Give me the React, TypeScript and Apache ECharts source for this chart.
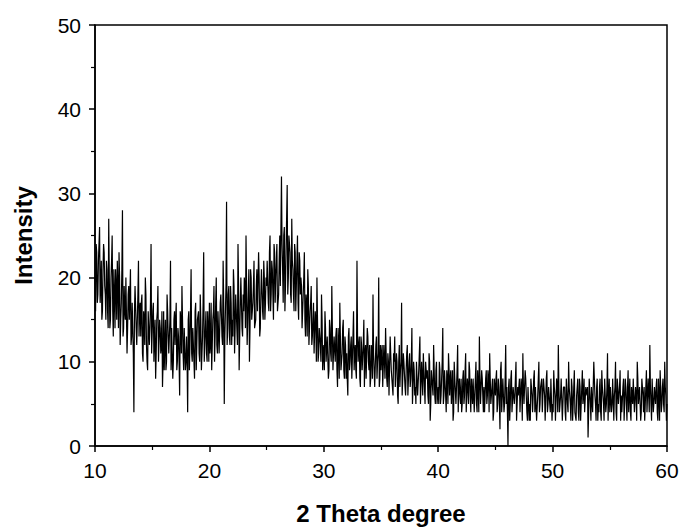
import React, { useEffect, useRef } from "react";
import * as echarts from "echarts";

// 2-theta sampling of the scan (degrees)
const THETA_START = 10;
const THETA_STEP = 0.05;

// Intensity, one row per degree (0.05° step)
const I_10_20 = [
  20, 16, 24, 23, 17, 18, 22, 24, 26, 17, 19, 22, 15, 16, 21, 24, 23, 19, 18, 15,
  22, 21, 16, 14, 27, 20, 14, 15, 20, 22, 25, 16, 13, 21, 18, 14, 21, 19, 15, 22,
  19, 14, 23, 20, 12, 15, 17, 21, 28, 13, 14, 19, 16, 15, 20, 20, 11, 14, 18, 19,
  15, 18, 21, 12, 13, 17, 17, 11, 4, 16, 19, 19, 14, 12, 12, 18, 22, 13, 16, 17,
  13, 17, 18, 11, 10, 16, 15, 12, 20, 18, 12, 10, 9, 16, 16, 12, 14, 17, 24, 11,
  11, 16, 17, 10, 13, 15, 8, 11, 15, 16, 19, 10, 10, 15, 14, 11, 12, 16, 7, 10,
  16, 9, 12, 15, 9, 10, 18, 16, 13, 11, 11, 15, 22, 9, 14, 14, 8, 10, 15, 16,
  12, 15, 17, 9, 10, 14, 13, 10, 6, 16, 15, 11, 19, 15, 11, 9, 14, 14, 9, 10,
  13, 10, 4, 15, 16, 9, 12, 16, 21, 11, 10, 14, 14, 10, 8, 16, 17, 9, 12, 15,
  15, 16, 11, 10, 18, 15, 9, 11, 13, 17, 23, 10, 12, 14, 16, 11, 10, 16, 14, 10,
];
const I_20_30 = [
  17, 11, 12, 17, 9, 12, 15, 16, 19, 10, 13, 17, 20, 12, 11, 16, 16, 11, 14, 17,
  18, 18, 13, 12, 22, 17, 5, 13, 16, 19, 29, 12, 14, 18, 19, 13, 12, 19, 17, 12,
  15, 13, 21, 19, 11, 14, 18, 18, 14, 12, 24, 19, 9, 13, 17, 20, 20, 14, 13, 18,
  16, 20, 19, 14, 25, 19, 12, 15, 18, 21, 10, 14, 21, 20, 15, 15, 17, 19, 22, 14,
  14, 15, 19, 21, 16, 16, 23, 20, 13, 14, 18, 21, 21, 16, 15, 22, 20, 15, 17, 20,
  19, 22, 22, 17, 16, 23, 25, 16, 18, 22, 21, 18, 15, 24, 23, 17, 20, 22, 24, 16,
  17, 18, 22, 25, 19, 19, 32, 24, 21, 17, 25, 26, 16, 19, 23, 23, 31, 18, 20, 25,
  24, 23, 18, 17, 27, 22, 21, 18, 16, 24, 23, 16, 19, 22, 25, 17, 15, 23, 22, 18,
  20, 19, 14, 14, 18, 20, 23, 15, 13, 18, 17, 13, 21, 19, 12, 14, 16, 17, 19, 12,
  13, 15, 17, 11, 11, 16, 15, 10, 20, 15, 10, 11, 14, 14, 12, 10, 18, 15, 9, 11,
];
const I_30_40 = [
  12, 9, 16, 14, 10, 10, 13, 13, 8, 9, 15, 14, 11, 10, 19, 14, 9, 9, 13, 13,
  10, 13, 14, 9, 7, 14, 12, 8, 17, 13, 9, 10, 11, 14, 15, 9, 8, 13, 12, 8,
  11, 8, 6, 13, 14, 9, 10, 12, 13, 8, 8, 13, 16, 9, 11, 12, 9, 8, 22, 13,
  10, 12, 13, 8, 7, 13, 12, 9, 9, 12, 15, 7, 11, 12, 8, 8, 14, 13, 10, 9,
  12, 7, 8, 12, 11, 8, 18, 11, 9, 7, 7, 12, 13, 8, 10, 11, 20, 7, 8, 12,
  9, 11, 12, 7, 7, 12, 10, 8, 14, 11, 8, 7, 11, 10, 6, 6, 13, 11, 9, 8,
  8, 6, 11, 10, 13, 7, 7, 11, 10, 6, 5, 10, 12, 7, 9, 10, 17, 6, 8, 11,
  10, 10, 7, 6, 9, 11, 12, 6, 6, 10, 11, 7, 8, 10, 14, 5, 7, 10, 9, 6,
  7, 5, 10, 10, 6, 6, 9, 9, 13, 5, 5, 10, 8, 6, 11, 9, 7, 5, 10, 9,
  8, 9, 6, 5, 11, 10, 3, 5, 9, 9, 7, 6, 12, 9, 6, 5, 9, 10, 5, 6,
];
const I_40_50 = [
  7, 5, 10, 9, 5, 6, 8, 10, 14, 5, 6, 9, 9, 6, 4, 9, 8, 5, 11, 9,
  6, 8, 9, 5, 7, 9, 3, 4, 10, 8, 8, 5, 5, 9, 12, 4, 7, 8, 6, 5,
  8, 4, 5, 8, 9, 5, 6, 9, 11, 4, 4, 8, 7, 5, 10, 9, 6, 4, 8, 8,
  5, 8, 8, 4, 6, 8, 10, 5, 4, 9, 7, 4, 13, 8, 5, 5, 9, 8, 6, 4,
  7, 4, 4, 8, 9, 5, 6, 9, 8, 4, 11, 8, 5, 5, 7, 8, 3, 4, 8, 8,
  6, 8, 9, 4, 5, 8, 7, 5, 2, 9, 10, 4, 6, 8, 8, 4, 5, 8, 12, 5,
  7, 4, 0, 7, 8, 3, 5, 8, 9, 4, 4, 7, 7, 5, 6, 8, 10, 3, 3, 7,
  6, 7, 8, 4, 4, 8, 7, 3, 11, 7, 5, 5, 9, 8, 6, 4, 3, 7, 7, 3,
  5, 3, 8, 7, 6, 4, 4, 8, 9, 4, 7, 7, 3, 3, 6, 8, 10, 4, 5, 7,
  7, 8, 4, 4, 8, 7, 6, 3, 3, 8, 9, 4, 5, 7, 7, 5, 4, 8, 8, 3,
];
const I_50_60 = [
  5, 4, 9, 7, 6, 3, 3, 8, 7, 4, 12, 7, 4, 5, 6, 8, 8, 3, 5, 7,
  7, 7, 4, 3, 8, 8, 5, 4, 10, 7, 6, 5, 3, 8, 7, 3, 5, 7, 9, 4,
  4, 3, 6, 7, 8, 4, 3, 8, 7, 3, 5, 7, 9, 5, 6, 8, 4, 4, 7, 7,
  6, 7, 1, 4, 8, 8, 5, 3, 7, 7, 4, 4, 10, 8, 6, 5, 3, 7, 8, 3,
  5, 4, 7, 8, 4, 3, 9, 7, 6, 5, 3, 8, 8, 4, 5, 7, 11, 3, 6, 8,
  4, 7, 7, 4, 5, 8, 8, 3, 6, 7, 10, 4, 3, 8, 7, 5, 5, 7, 9, 3,
  6, 4, 4, 7, 8, 3, 5, 8, 7, 5, 3, 7, 9, 4, 6, 8, 4, 3, 7, 7,
  5, 8, 8, 4, 4, 7, 6, 3, 10, 8, 5, 5, 7, 7, 3, 4, 8, 8, 6, 4,
  7, 3, 5, 7, 9, 4, 4, 8, 6, 4, 12, 7, 5, 3, 8, 8, 4, 5, 7, 7,
  5, 7, 8, 4, 3, 8, 6, 3, 9, 7, 4, 5, 7, 8, 5, 4, 10, 7, 6, 3,
  5,
];

const X_TICKS = [10, 20, 30, 40, 50, 60];
const Y_TICKS = [0, 10, 20, 30, 40, 50];

const FONT = "'Liberation Sans', Arial, sans-serif";

export default function App() {
  const ref = useRef<HTMLDivElement>(null);

  useEffect(() => {
    if (!ref.current) return;
    const chart = echarts.init(ref.current, undefined, { renderer: "svg" });
    const intensity = [...I_10_20, ...I_20_30, ...I_30_40, ...I_40_50, ...I_50_60];
    const data = intensity.map((v, i) => [
      Math.round((THETA_START + i * THETA_STEP) * 100) / 100,
      v,
    ]);
    const axisCommon = {
      axisLine: { show: true, onZero: false, lineStyle: { color: "#000", width: 1.5 } },
      axisTick: { show: true, inside: false, length: 6, lineStyle: { color: "#000", width: 1.5 } },
      minorTick: { show: true, splitNumber: 2, length: 4, lineStyle: { color: "#000", width: 1.2 } },
      splitLine: { show: false },
      minorSplitLine: { show: false },
      axisLabel: { color: "#000", fontSize: 21, fontFamily: FONT, margin: 14 },
      nameTextStyle: { color: "#000", fontSize: 24, fontWeight: "bold", fontFamily: FONT },
    };
    chart.setOption({
      animation: false,
      backgroundColor: "#fff",
      grid: {
        left: 95,
        right: 18,
        top: 25,
        bottom: 82,
        show: true,
        borderColor: "#000",
        borderWidth: 1.5,
        backgroundColor: "transparent",
      },
      xAxis: {
        type: "value",
        min: X_TICKS[0],
        max: X_TICKS[X_TICKS.length - 1],
        interval: 10,
        name: "2 Theta degree",
        nameLocation: "middle",
        nameGap: 55,
        ...axisCommon,
      },
      yAxis: {
        type: "value",
        min: Y_TICKS[0],
        max: Y_TICKS[Y_TICKS.length - 1],
        interval: 10,
        name: "Intensity",
        nameLocation: "middle",
        nameGap: 60,
        ...axisCommon,
      },
      series: [
        {
          type: "line",
          data,
          showSymbol: false,
          symbol: "none",
          lineStyle: { color: "#000", width: 1.2 },
          silent: true,
        },
      ],
    });
    return () => chart.dispose();
  }, []);

  return (
    <div
      ref={ref}
      style={{ position: "fixed", left: 0, top: 0, width: 685, height: 530, background: "#fff" }}
    />
  );
}
